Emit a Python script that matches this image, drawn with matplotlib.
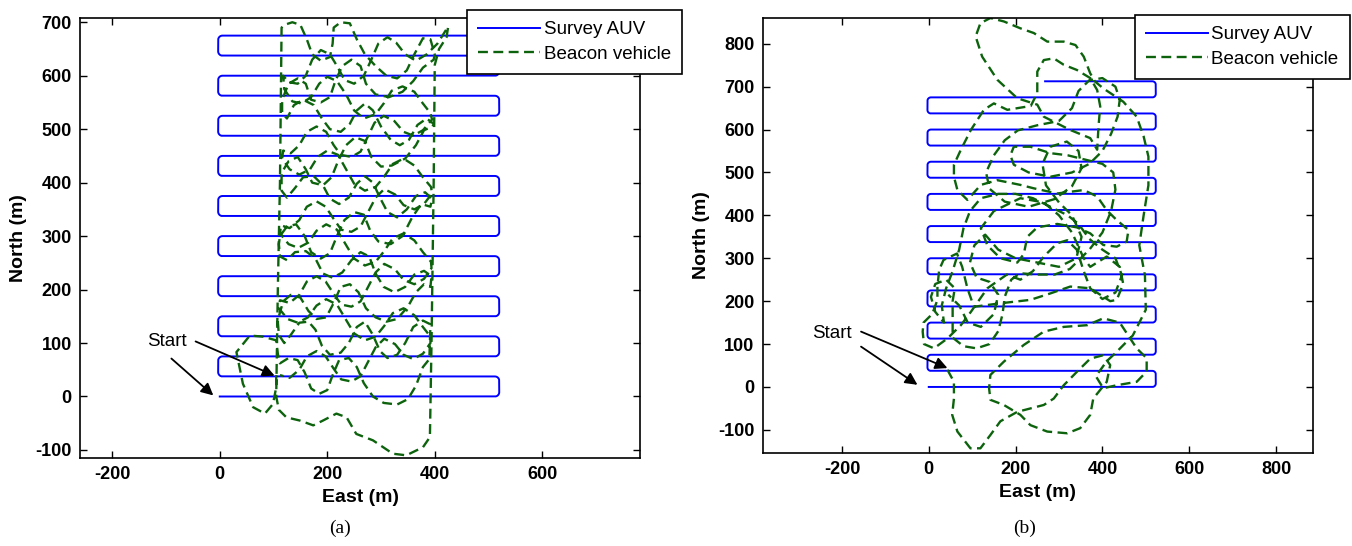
import numpy as np
import matplotlib
matplotlib.use("Agg")
import matplotlib.pyplot as plt

plt.rcParams['font.family'] = ['Liberation Sans', 'DejaVu Sans']
plt.rcParams['axes.unicode_minus'] = False

# survey AUV lawnmower legs (north of each leg, m) and leg extents (east, m)
survey_north_a = [0, 37.5, 75, 112.5, 150, 187.5, 225, 262.5, 300, 337.5,
                  375, 412.5, 450, 487.5, 525, 562.5, 600, 637.5, 675]
survey_west_a = 5
survey_east_a = 512
survey_last_end_a = 512

survey_north_b = [0, 37.5, 75, 112.5, 150, 187.5, 225, 262.5, 300, 337.5,
                  375, 412.5, 450, 487.5, 525, 562.5, 600, 637.5, 675, 712.5]
survey_west_b = 5
survey_east_b = 515
survey_last_end_b = 268

# beacon vehicle track, case (a)
beacon_a = [
    (105, 40), (105, 17), (99, -14), (84, -32), (62, -20), (43, 24), (31, 83),
    (56, 114), (80, 112), (105, 105), (108, 80), (112, 62), (128, 72), (145, 68),
    (158, 45), (170, 15), (185, 5), (200, 12), (210, 40), (222, 68), (240, 72),
    (255, 55), (268, 25), (285, 0), (305, -12), (330, -15), (350, -5), (365, 20),
    (378, 55), (390, 70),
    (392, 135), (378, 142), (360, 130), (345, 100), (330, 78), (312, 72), (298, 85),
    (285, 115), (270, 140), (255, 130), (240, 100), (225, 82), (205, 78), (190, 95),
    (178, 125), (165, 140), (148, 138), (132, 115), (120, 100), (110, 115), (108, 140),
    (110, 150), (118, 178), (132, 190), (150, 185), (165, 160), (180, 145), (198, 148),
    (212, 175), (225, 205), (242, 210), (258, 195), (272, 165), (290, 148), (310, 140),
    (330, 145), (350, 168), (365, 195), (380, 210), (392, 205),
    (394, 225), (380, 235), (362, 228), (345, 205), (325, 195), (305, 205), (290, 230),
    (278, 262), (262, 270), (245, 255), (228, 232), (210, 222), (192, 230), (178, 258),
    (160, 272), (140, 270), (125, 255), (112, 262), (110, 285),
    (112, 300), (125, 318), (142, 322), (158, 300), (170, 270), (188, 258), (205, 268),
    (218, 300), (232, 330), (250, 345), (268, 340), (280, 310), (295, 290), (318, 285),
    (340, 300), (358, 335), (375, 360), (392, 355),
    (395, 370), (382, 382), (365, 375), (348, 350), (330, 335), (312, 345), (298, 372),
    (285, 400), (270, 412), (255, 398), (240, 372), (222, 360), (205, 370), (192, 395),
    (175, 412), (155, 410), (140, 390), (125, 372), (115, 385), (115, 410),
    (116, 420), (128, 440), (145, 448), (160, 425), (172, 400), (192, 395), (208, 410),
    (220, 440), (235, 470), (252, 485), (270, 478), (282, 448), (300, 430), (320, 432),
    (345, 445), (365, 470), (380, 498), (396, 505),
    (398, 510), (385, 520), (368, 508), (352, 480), (335, 470), (318, 480), (300, 505),
    (285, 535), (270, 548), (255, 535), (242, 510), (225, 495), (205, 500), (190, 520),
    (175, 545), (155, 555), (138, 545), (125, 520), (116, 530), (116, 555),
    (118, 560), (128, 585), (145, 595), (160, 585), (170, 555), (188, 550), (205, 560),
    (215, 590), (228, 618), (245, 630), (262, 618), (272, 585), (290, 565), (315, 560),
    (340, 570), (360, 590), (378, 615), (398, 630),
    (400, 640), (392, 668), (378, 670), (362, 640), (348, 610), (330, 595), (310, 600),
    (290, 618), (270, 640), (255, 668), (242, 698), (225, 700), (212, 690), (210, 660),
    (205, 635), (188, 628), (172, 640), (162, 668), (150, 695), (135, 700), (120, 695),
    (115, 690), (112, 400), (108, 200), (105, 0), (110, -25), (124, -39), (149, -45),
    (174, -54), (192, -45), (217, -32), (236, -39), (254, -70), (285, -82), (322, -107),
    (347, -110), (378, -95), (391, -76), (394, 100), (398, 400), (400, 620),
    (408, 650), (422, 672), (425, 692),
    # second sweep back down through the box
    (405, 660), (385, 640), (365, 628), (345, 640), (328, 662), (312, 672), (295, 660),
    (282, 630), (268, 600), (250, 585), (232, 592), (220, 615), (205, 640), (188, 648),
    (172, 630), (160, 600), (145, 585), (128, 588), (118, 600),
    (120, 575), (135, 552), (152, 548), (170, 560), (185, 585), (200, 598), (218, 590),
    (235, 565), (250, 535), (268, 520), (290, 528), (305, 548), (320, 572), (340, 580),
    (362, 570), (378, 548), (392, 530),
    (395, 518), (378, 498), (360, 488), (342, 495), (325, 515), (305, 525), (288, 512),
    (275, 485), (262, 458), (245, 448), (225, 452), (212, 470), (198, 495), (180, 505),
    (162, 495), (148, 470), (132, 455), (118, 460),
    (116, 445), (130, 425), (148, 415), (168, 425), (182, 448), (200, 460), (220, 452),
    (235, 425), (250, 398), (270, 385), (290, 392), (305, 410), (322, 435), (342, 445),
    (362, 432), (378, 410), (393, 392),
    (395, 380), (380, 360), (362, 350), (342, 358), (326, 378), (306, 388), (290, 372),
    (276, 345), (262, 318), (245, 308), (226, 312), (212, 332), (197, 355), (180, 365),
    (162, 355), (148, 330), (130, 315), (114, 320),
    (112, 305), (128, 285), (146, 278), (165, 288), (180, 310), (198, 322), (218, 312),
    (234, 285), (250, 258), (270, 245), (290, 252), (306, 272), (322, 296), (342, 305),
    (362, 292), (378, 270), (393, 252),
    (394, 240), (380, 220), (362, 210), (342, 218), (326, 238), (306, 248), (290, 232),
    (276, 205), (262, 178), (245, 168), (226, 172), (212, 192), (197, 215), (180, 225),
    (162, 215), (148, 190), (130, 175), (112, 180),
    (110, 165), (126, 145), (145, 138), (164, 148), (180, 170), (198, 182), (218, 172),
    (234, 145), (250, 118), (270, 105), (290, 112), (306, 132), (322, 156), (342, 165),
    (362, 152), (378, 130), (392, 112),
    (392, 100), (378, 80), (360, 70), (342, 78), (326, 98), (306, 108), (290, 92),
    (276, 65), (262, 38), (245, 28), (226, 32), (212, 52), (197, 75), (180, 85),
    (162, 75), (148, 50), (130, 35), (112, 40),
]

# beacon vehicle track, case (b)
beacon_b = [
    (43, 40), (58, 12), (58, -27), (54, -65), (66, -104), (96, -143), (119, -143),
    (142, -112), (165, -80), (204, -58), (234, -50), (265, -42), (288, -27), (311, 4),
    (341, 35), (372, 66), (402, 74), (418, 51), (410, 12), (379, -27), (372, -65),
    (349, -96), (319, -108), (273, -104), (234, -89), (211, -65), (173, -42), (142, -30),
    (139, -3), (142, 28), (173, 59), (219, 98), (265, 129), (311, 140), (365, 144),
    (402, 160), (440, 150), (479, 90), (502, 67), (502, 36), (479, 12), (433, 4),
    (402, -3), (385, 25), (410, 60), (433, 82), (470, 120), (500, 180), (498, 260),
    (485, 330), (495, 400), (506, 470), (506, 537), (495, 584), (479, 630), (448, 665),
    (402, 696), (383, 712), (372, 731), (357, 770), (338, 797), (311, 805), (273, 805),
    (242, 825), (211, 836), (173, 852), (142, 860), (119, 848), (108, 817), (123, 770),
    (158, 716), (204, 673), (250, 658), (265, 630), (326, 599), (372, 580), (388, 553),
    (391, 607), (395, 654), (388, 692), (372, 720), (341, 739), (311, 751), (288, 766),
    (265, 762), (250, 735), (250, 685), (235, 655), (181, 646), (150, 661), (127, 646),
    (97, 599), (74, 553), (58, 518), (58, 490), (66, 459), (89, 436), (120, 471),
    (158, 482), (211, 471), (242, 463), (296, 451), (357, 459), (388, 444), (410, 412),
    (433, 389), (460, 366), (456, 339), (433, 327), (402, 331), (372, 358), (341, 372),
    (296, 380), (250, 372), (227, 350), (219, 310), (204, 290), (165, 300), (135, 330),
    (120, 370), (150, 410), (211, 440), (265, 430), (300, 400), (330, 360), (357, 300),
    (372, 280), (410, 304), (440, 280), (448, 240), (433, 203), (418, 200), (372, 230),
    (326, 234), (280, 218), (234, 203), (165, 195), (104, 187), (89, 230), (77, 280),
    (65, 311), (34, 296), (24, 273), (20, 234), (20, 203), (8, 170), (-12, 150),
    (-14, 129), (-11, 100), (12, 90), (43, 113), (74, 144), (97, 175), (135, 230),
    (180, 262), (211, 250), (240, 270), (265, 304), (296, 335), (319, 342), (341, 320),
    (357, 270), (372, 230),
    (400, 205), (430, 220), (445, 260), (430, 300), (400, 320), (370, 345), (345, 380),
    (320, 400), (280, 420), (240, 440), (200, 450), (160, 450), (120, 440), (95, 410),
    (80, 370), (70, 320), (55, 270), (40, 230), (30, 190), (35, 150), (15, 175),
    (5, 210), (15, 240), (40, 250), (60, 230), (55, 200), (55, 115), (80, 95),
    (110, 90), (140, 100), (160, 130), (170, 170), (175, 210), (190, 250), (210, 265),
    (250, 262), (290, 262), (325, 275), (350, 300), (370, 320), (400, 360), (420, 410),
    (430, 460), (425, 500), (400, 520), (360, 530), (320, 540), (280, 545), (234, 560),
    (196, 560), (188, 540), (196, 518), (230, 500), (280, 490), (330, 500), (370, 520),
    (400, 550), (420, 590), (435, 630), (440, 670), (430, 700), (400, 720), (370, 715),
    (345, 690), (330, 650), (300, 620), (250, 610), (205, 598), (175, 575), (150, 540),
    (132, 500), (140, 462), (175, 432), (230, 420), (290, 438), (330, 468), (352, 510),
    (345, 550), (318, 572), (280, 560), (262, 520), (270, 470), (300, 430), (330, 400),
    (352, 350), (340, 300), (300, 280), (250, 290), (200, 300), (160, 320), (130, 355),
    (105, 330), (95, 290), (110, 255), (140, 245), (160, 215), (150, 170), (120, 140),
    (90, 150), (70, 190), (45, 215),
]

# "Start" annotations: text position, arrow tails and tips (east, north)
start_text_a = (-135, 102)
start_tails_a = [(-45, 103), (-90, 71)]
start_tips_a = [(102, 39), (-12, 2)]
start_text_b = (-268, 125)
start_tails_b = [(-156, 129), (-156, 94)]
start_tips_b = [(43, 44), (-26, 5)]

auv_color = '#0000ff'
beacon_color = '#0d630d'


def survey_track(norths, west, east, last_end, r=8):
    # straight legs joined by rounded turns
    xs, ys = [], []
    for k, n in enumerate(norths):
        going_east = (k % 2 == 0)
        x0 = 0 if k == 0 else (west if going_east else east)
        x1 = east if going_east else west
        if k == len(norths) - 1:
            x1 = last_end
        xs += [x0, x1]
        ys += [n, n]
        if k < len(norths) - 1:
            n2 = norths[k + 1]
            s = 1 if going_east else -1
            t = np.linspace(-np.pi / 2, 0, 8)
            xs += list(x1 + s * r * np.cos(t))
            ys += list(n + r + r * np.sin(t))
            t2 = np.linspace(0, np.pi / 2, 8)
            xs += list(x1 + s * r * np.cos(t2))
            ys += list(n2 - r + r * np.sin(t2))
    return xs, ys


def draw_panel(ax, norths, west, east, last_end, beacon, text_xy, tails, tips,
               xlim, ylim, xticks, yticks, legend_anchor):
    sx, sy = survey_track(norths, west, east, last_end)
    ax.plot(sx, sy, color=auv_color, lw=1.4, label='Survey AUV')
    bx = [p[0] for p in beacon]
    by = [p[1] for p in beacon]
    ax.plot(bx, by, color=beacon_color, lw=1.7, linestyle=(0, (4.2, 2.3)),
            label='Beacon vehicle')
    ax.set_xlim(*xlim)
    ax.set_ylim(*ylim)
    ax.set_xticks(xticks)
    ax.set_yticks(yticks)
    ax.tick_params(direction='in', top=True, right=True, length=5, width=1,
                   labelsize=13, pad=6)
    for lab in ax.get_xticklabels() + ax.get_yticklabels():
        lab.set_fontweight('bold')
    for sp in ax.spines.values():
        sp.set_linewidth(1.2)
    ax.set_xlabel('East (m)', fontsize=14, fontweight='bold', labelpad=4)
    ax.set_ylabel('North (m)', fontsize=14, fontweight='bold', labelpad=6)
    ax.text(text_xy[0], text_xy[1], 'Start', fontsize=13.5, ha='left', va='center')
    for tail, tip in zip(tails, tips):
        ax.annotate('', xy=tip, xytext=tail,
                    arrowprops=dict(arrowstyle='-|>', color='k', lw=1.3,
                                    mutation_scale=18, shrinkA=0, shrinkB=0))
    leg = ax.legend(loc='upper right', bbox_to_anchor=legend_anchor, fontsize=13.5,
                    handlelength=3.3, frameon=True, fancybox=False, framealpha=1,
                    borderpad=0.6, labelspacing=0.4, handletextpad=0.2,
                    borderaxespad=0)
    leg.get_frame().set_edgecolor('k')
    leg.get_frame().set_linewidth(1.2)


fig = plt.figure(figsize=(13.52, 5.46), dpi=100)
ax_a = fig.add_axes([0.0592, 0.1612, 0.4142, 0.8059])
ax_b = fig.add_axes([0.5643, 0.1703, 0.4068, 0.7967])

draw_panel(ax_a, survey_north_a, survey_west_a, survey_east_a, survey_last_end_a,
           beacon_a, start_text_a, start_tails_a, start_tips_a,
           (-260, 782), (-115, 708), [-200, 0, 200, 400, 600],
           [-100, 0, 100, 200, 300, 400, 500, 600, 700], (1.075, 1.018))
draw_panel(ax_b, survey_north_b, survey_west_b, survey_east_b, survey_last_end_b,
           beacon_b, start_text_b, start_tails_b, start_tips_b,
           (-382, 885), (-154, 860), [-200, 0, 200, 400, 600, 800],
           [-100, 0, 100, 200, 300, 400, 500, 600, 700, 800], (1.067, 1.007))

fig.text(340 / 1352, 1 - 528 / 546, '(a)', fontsize=14, ha='center', va='center',
         family='Liberation Serif')
fig.text(1025 / 1352, 1 - 528 / 546, '(b)', fontsize=14, ha='center', va='center',
         family='Liberation Serif')

fig.savefig('out.png', dpi=100)
